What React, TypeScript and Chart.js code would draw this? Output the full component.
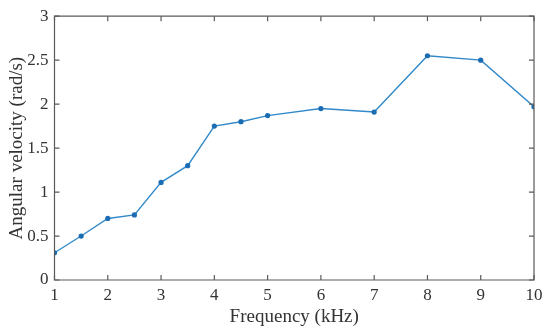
import React, { useEffect, useRef } from "react";
import { Chart, registerables } from "chart.js";

Chart.register(...registerables);

const frequencies = [1, 1.5, 2, 2.5, 3, 3.5, 4, 4.5, 5, 6, 7, 8, 9, 10];
const angularVelocity = [0.31, 0.5, 0.7, 0.74, 1.11, 1.3, 1.75, 1.8, 1.87, 1.95, 1.91, 2.55, 2.5, 1.97];
const xTicks = [1, 2, 3, 4, 5, 6, 7, 8, 9, 10];
const yTicks = [0, 0.5, 1, 1.5, 2, 2.5, 3];

const AXIS_COLOR = "#5a5a5a";
const TICK_LEN = 5;
const FONT = "'Liberation Serif', 'Times New Roman', serif";

const boxPlugin = {
  id: "boxTicks",
  afterDatasetsDraw(chart: any) {
    const { ctx, chartArea, scales } = chart;
    const { left, right, top, bottom } = chartArea;
    ctx.save();
    ctx.strokeStyle = AXIS_COLOR;
    ctx.lineWidth = 1.2;
    ctx.beginPath();
    ctx.rect(left, top, right - left, bottom - top);
    ctx.stroke();
    ctx.beginPath();
    xTicks.forEach((v) => {
      const x = scales.x.getPixelForValue(v);
      ctx.moveTo(x, bottom);
      ctx.lineTo(x, bottom - TICK_LEN);
      ctx.moveTo(x, top);
      ctx.lineTo(x, top + TICK_LEN);
    });
    yTicks.forEach((v) => {
      const y = scales.y.getPixelForValue(v);
      ctx.moveTo(left, y);
      ctx.lineTo(left + TICK_LEN, y);
      ctx.moveTo(right, y);
      ctx.lineTo(right - TICK_LEN, y);
    });
    ctx.stroke();
    ctx.restore();
  },
};

export default function App() {
  const ref = useRef<HTMLCanvasElement>(null);
  useEffect(() => {
    document.body.style.margin = "0";
    const chart = new Chart(ref.current!, {
      type: "line",
      data: {
        datasets: [
          {
            data: frequencies.map((f, i) => ({ x: f, y: angularVelocity[i] })),
            borderColor: "#3189c9",
            borderWidth: 1.4,
            pointRadius: 2.6,
            pointBackgroundColor: "#1a6cb3",
            pointBorderColor: "#1a6cb3",
            pointBorderWidth: 0,
            tension: 0,
          },
        ],
      },
      plugins: [boxPlugin],
      options: {
        animation: false,
        responsive: false,
        maintainAspectRatio: false,
        layout: { padding: { top: 15, right: 16, left: 0, bottom: 0 } },
        plugins: { legend: { display: false }, tooltip: { enabled: false } },
        scales: {
          x: {
            type: "linear",
            min: 1,
            max: 10,
            afterBuildTicks: (s: any) => {
              s.ticks = xTicks.map((v) => ({ value: v }));
            },
            afterFit: (s: any) => {
              s.height = 54;
            },
            grid: { display: false, drawTicks: false },
            border: { display: false },
            ticks: {
              color: "#333",
              padding: 5,
              maxRotation: 0,
              callback: (v: any) => String(v),
              font: { family: FONT, size: 17 },
            },
            title: {
              display: true,
              text: "Frequency (kHz)",
              color: "#333",
              padding: { top: 0, bottom: 6 },
              font: { family: FONT, size: 19 },
            },
          },
          y: {
            type: "linear",
            min: 0,
            max: 3,
            afterBuildTicks: (s: any) => {
              s.ticks = yTicks.map((v) => ({ value: v }));
            },
            afterFit: (s: any) => {
              s.width = 54.5;
            },
            grid: { display: false, drawTicks: false },
            border: { display: false },
            ticks: {
              color: "#333",
              padding: 6,
              callback: (v: any) => String(v),
              font: { family: FONT, size: 17 },
            },
            title: {
              display: true,
              text: "Angular velocity (rad/s)",
              color: "#333",
              padding: { top: 6, bottom: 0 },
              font: { family: FONT, size: 19 },
            },
          },
        },
      },
    });
    return () => chart.destroy();
  }, []);
  return (
    <div style={{ position: "absolute", left: 0, top: 0, width: 550, height: 334, background: "#fff" }}>
      <canvas ref={ref} width={550} height={334} style={{ display: "block" }} />
    </div>
  );
}
